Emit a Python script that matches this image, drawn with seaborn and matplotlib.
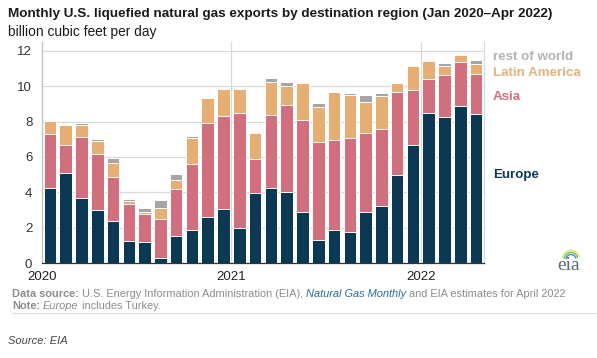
import numpy as np
import pandas as pd
import seaborn as sns
import matplotlib.pyplot as plt
from matplotlib.lines import Line2D
from matplotlib.patches import Arc
from matplotlib.offsetbox import TextArea, HPacker, AnchoredOffsetbox

# Monthly LNG exports, billion cubic feet per day
months = pd.date_range("2020-01", "2022-04", freq="MS").strftime("%Y-%m").tolist()
europe = [4.24, 5.09, 3.68, 3.00, 2.38, 1.22, 1.17, 0.30, 1.51, 1.85, 2.62, 3.03,
          2.00, 3.96, 4.22, 4.03, 2.86, 1.32, 1.86, 1.77, 2.86, 3.22, 4.98, 6.68,
          8.47, 8.24, 8.86, 8.45]
asia = [3.08, 1.60, 3.43, 3.19, 2.50, 2.12, 1.60, 2.19, 2.66, 3.73, 5.30, 5.27,
        6.49, 1.92, 4.17, 4.89, 5.21, 5.51, 5.10, 5.30, 4.50, 4.36, 4.70, 3.09,
        1.92, 2.40, 2.49, 2.24]
latin_america = [0.73, 1.10, 0.68, 0.73, 0.79, 0.17, 0.13, 0.62, 0.53, 1.51, 1.43, 1.52,
                 1.35, 1.48, 1.85, 1.09, 2.10, 2.02, 2.74, 2.45, 1.73, 1.89, 0.52, 1.40,
                 1.02, 0.53, 0.40, 0.57]
rest_of_world = [0.02, 0.02, 0.11, 0.09, 0.25, 0.11, 0.19, 0.43, 0.35, 0.10, 0.02, 0.02,
                 0.02, 0.02, 0.23, 0.23, 0.02, 0.21, 0.02, 0.12, 0.43, 0.17, 0.02, 0.02,
                 0.02, 0.13, 0.02, 0.25]

y_ticks = [0, 2, 4, 6, 8, 10, 12]
year_labels = ["2020", "2021", "2022"]

colors = {
    "Europe": "#0b3954",
    "Asia": "#d26f7f",
    "Latin America": "#e6ae72",
    "rest of world": "#a5a5a5",
}
label_colors = {
    "rest of world": "#b3b3b3",
    "Latin America": "#e3b27e",
    "Asia": "#d26f7f",
    "Europe": "#0b3954",
}

sns.set_theme(style="white")
plt.rcParams['font.family'] = ['Liberation Sans', 'DejaVu Sans']

fig = plt.figure(figsize=(5.97, 3.58), dpi=100)
ax = fig.add_axes([42 / 597, 1 - 263 / 358, 442 / 597, 221 / 358])

# Stack by overlaying cumulative totals, tallest first
e = np.array(europe)
layers = [
    ("rest of world", e + np.array(asia) + np.array(latin_america) + np.array(rest_of_world)),
    ("Latin America", e + np.array(asia) + np.array(latin_america)),
    ("Asia", e + np.array(asia)),
    ("Europe", e),
]
for name, vals in layers:
    sns.barplot(x=months, y=vals, order=months, color=colors[name], saturation=1,
                width=0.8, edgecolor="white", linewidth=0.7, errorbar=None, ax=ax)

ax.set_xlim(-0.5, len(months) - 0.5)
ax.set_ylim(0, 12.5)
ax.set_xlabel("")
ax.set_ylabel("")

ax.set_yticks(y_ticks)
ax.set_yticklabels([str(t) for t in y_ticks], fontsize=9.5, color="#333333")
ax.set_xticks([-0.5, 5.5, 11.5, 17.5, 23.5])
ax.set_xticklabels([year_labels[0], "", year_labels[1], "", year_labels[2]],
                   fontsize=9.5, color="#222222")
ax.tick_params(axis="y", length=0, pad=7)
ax.tick_params(axis="x", length=4, width=1, color="#333333", direction="out", pad=2)

ax.set_axisbelow(True)
ax.yaxis.grid(True, color="#d9d9d9", linewidth=0.9)
for xv in [11.5, 23.5]:
    ax.axvline(xv, color="#d9d9d9", linewidth=0.9, zorder=0)

ax.spines["top"].set_visible(False)
ax.spines["left"].set_color("#bfbfbf")
ax.spines["right"].set_color("#cfdde8")
ax.spines["bottom"].set_color("#333333")
for s in ax.spines.values():
    s.set_linewidth(0.9)

# Title and units
fig.text(8 / 597, 1 - 14 / 358, "Monthly U.S. liquefied natural gas exports by destination region (Jan 2020\u2013Apr 2022)",
         fontsize=9.7, fontweight="bold", color="#1a1a1a", va="center", ha="left")
fig.text(8 / 597, 1 - 32 / 358, "billion cubic feet per day", fontsize=9.9,
         color="#1a1a1a", va="center", ha="left")

# Direct labels instead of a legend
label_y = {"rest of world": 57, "Latin America": 73, "Asia": 97, "Europe": 175}
for name, yp in label_y.items():
    fig.text(493 / 597, 1 - yp / 358, name, fontsize=9.6, fontweight="bold",
             color=label_colors[name], va="center", ha="left")


def rich_line(parts, x, y, size=7.95):
    boxes = []
    for txt, props in parts:
        tp = dict(fontsize=size, color="#8c8c8c")
        tp.update(props)
        boxes.append(TextArea(txt, textprops=tp))
    pack = HPacker(children=boxes, align="baseline", pad=0, sep=0)
    box = AnchoredOffsetbox(loc="lower left", child=pack, pad=0, borderpad=0, frameon=False,
                            bbox_to_anchor=(x, y), bbox_transform=fig.transFigure)
    fig.add_artist(box)


rich_line([("Data source:", dict(fontweight="bold")),
           (" U.S. Energy Information Administration (EIA), ", {}),
           ("Natural Gas Monthly", dict(style="italic", color="#2a6f97")),
           (" and EIA estimates for April 2022", {})],
          12 / 597, 1 - 299 / 358)
rich_line([("Note:", dict(fontweight="bold")),
           (" ", {}),
           ("Europe", dict(style="italic")),
           (" includes Turkey.", {})],
          12 / 597, 1 - 311 / 358)

fig.add_artist(Line2D([12 / 597, 1], [1 - 313 / 358, 1 - 313 / 358],
                      transform=fig.transFigure, color="#e0e0e0", linewidth=0.9))

fig.text(8 / 597, 1 - 341 / 358, "Source: EIA", fontsize=8, style="italic",
         color="#444444", va="center", ha="left")

# eia logo
fig.text(569 / 597, 1 - 265 / 358, "eia", fontsize=14, family="Liberation Serif",
         color="#5b6b78", ha="center", va="center")
for r, c in [(0.030, "#d8e36a"), (0.024, "#7ab648"), (0.018, "#2a9bc4")]:
    fig.add_artist(Arc((571 / 597, 1 - 261 / 358), r, r * 597 / 358 * 1.2, theta1=40, theta2=150,
                       transform=fig.transFigure, color=c, linewidth=1.0))

fig.savefig("out.png", dpi=100)
